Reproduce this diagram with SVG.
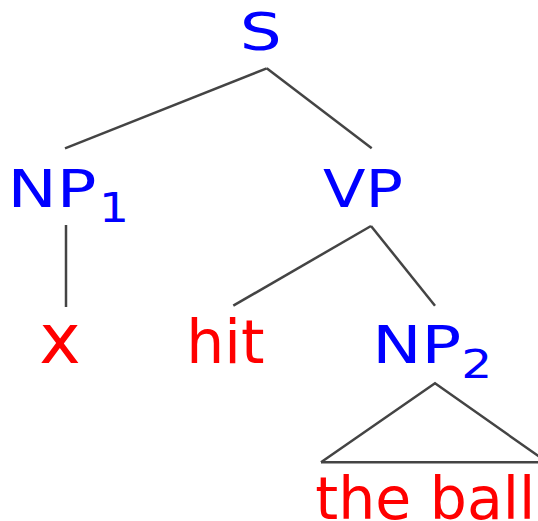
<svg xmlns="http://www.w3.org/2000/svg" width="538" height="521" viewBox="0 0 538 521">
  <style>
    .cat { font-family: "DejaVu Sans", "Liberation Sans", sans-serif; fill: #0000ff; }
    .word { font-family: "DejaVu Sans", "Liberation Sans", sans-serif; fill: #ff0000; }
    .edge { stroke: #444444; stroke-width: 2.5; fill: none; stroke-linecap: butt; }
  </style>
  <rect width="538" height="521" fill="#ffffff"/>

  <!-- tree branches -->
  <g id="connectors">
    <line class="edge" x1="266.7" y1="68.3" x2="65" y2="148.3"/>
    <line class="edge" x1="266.7" y1="68.3" x2="371.7" y2="148.3"/>
    <line class="edge" x1="66" y1="225" x2="66" y2="307"/>
    <line class="edge" x1="371" y1="226" x2="233.3" y2="305.7"/>
    <line class="edge" x1="371" y1="226" x2="435" y2="305.7"/>
    <!-- roof over the unanalysed NP -->
    <polyline class="edge" points="321,462.3 435,383.3 543,459.3"/>
    <line class="edge" x1="321" y1="462.3" x2="538" y2="462.3"/>
  </g>

  <g id="S">
    <text class="cat" x="260.7" y="50" font-size="52" text-anchor="middle" textLength="42" lengthAdjust="spacingAndGlyphs">S</text>
  </g>

  <g id="NP1">
    <text class="cat" x="52" y="206.7" font-size="52" text-anchor="middle" textLength="89" lengthAdjust="spacingAndGlyphs">NP</text>
    <text class="cat" x="114" y="221.7" font-size="40" text-anchor="middle" textLength="30" lengthAdjust="spacingAndGlyphs">1</text>
  </g>

  <g id="VP">
    <text class="cat" x="362.9" y="206.7" font-size="52" text-anchor="middle" textLength="80" lengthAdjust="spacingAndGlyphs">VP</text>
  </g>

  <g id="x">
    <text class="word" x="60" y="363.3" font-size="70" text-anchor="middle">x</text>
  </g>

  <g id="hit">
    <text class="word" x="186.2" y="363.3" font-size="60">hit</text>
  </g>

  <g id="NP2">
    <text class="cat" x="416.7" y="363.3" font-size="52" text-anchor="middle" textLength="89" lengthAdjust="spacingAndGlyphs">NP</text>
    <text class="cat" x="476.7" y="378.3" font-size="39" text-anchor="middle" textLength="31" lengthAdjust="spacingAndGlyphs">2</text>
  </g>

  <g id="the-ball">
    <text class="word" x="315.3" y="519" font-size="59" textLength="220" lengthAdjust="spacingAndGlyphs">the ball</text>
  </g>
</svg>
